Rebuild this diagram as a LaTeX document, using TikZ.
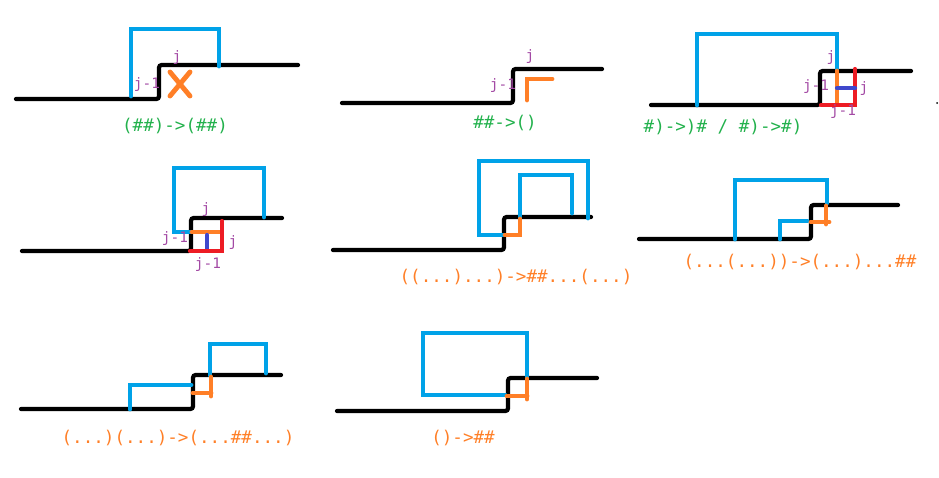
\documentclass[tikz,border=0pt]{standalone}
\usepackage{fontspec}
\setmonofont{DejaVu Sans Mono}
\definecolor{PaintBlue}{RGB}{0,162,232}
\definecolor{PaintOrange}{RGB}{255,127,39}
\definecolor{PaintRed}{RGB}{237,28,36}
\definecolor{PaintIndigo}{RGB}{63,72,204}
\definecolor{PaintPurple}{RGB}{163,73,164}
\definecolor{PaintGreen}{RGB}{34,177,76}

\begin{document}
\begin{tikzpicture}[x=0.02cm, y=-0.02cm,
    stair/.style={draw=black, line width=2.4pt, line cap=round, rounded corners=1.5pt},
    match/.style={draw=PaintBlue, line width=2.8pt, line cap=round},
    move/.style={draw=PaintOrange, line width=2.8pt, line cap=round},
    redseg/.style={draw=PaintRed, line width=2.4pt, line cap=round},
    dpseg/.style={draw=PaintIndigo, line width=2.4pt, line cap=round},
    idx/.style={text=PaintPurple, inner sep=0pt, font=\ttfamily\fontsize{8.2}{9}\selectfont},
    rule/.style={inner sep=0pt, font=\ttfamily\fontsize{10}{12}\selectfont},
    good/.style={rule, text=PaintGreen},
    bad/.style={rule, text=PaintOrange}
  ]
    \useasboundingbox (0,0) rectangle (939,477);
    % (##)->(##)
    \draw[stair] (16,99) -- (159,99) -- (159,65) -- (298,65);
    \draw[match] (131,96) -- (131,29) -- (219,29) -- (219,66);
    \draw[move] (170,72) -- (190,96) (190,72) -- (170,96);
    \node[idx] (p1j) at (177,58) {j};
    \node[idx] (p1jm) at (147,85) {j-1};
    \node[good] (p1rule) at (175,126) {(\#\#)->(\#\#)};
    % ##->()
    \draw[stair] (342,103) -- (513,103) -- (513,69) -- (602,69);
    \draw[move] (527,100) -- (527,79) -- (552,79);
    \node[idx] (p2j) at (530,57) {j};
    \node[idx] (p2jm) at (503,86) {j-1};
    \node[good] (p2rule) at (505,123) {\#\#->()};
    % #)->)# / #)->#)
    \draw[stair] (651,105) -- (820,105) -- (820,71) -- (911,71);
    \draw[match] (697,105) -- (697,34) -- (837,34) -- (837,71);
    \draw[move] (837,71) -- (837,104);
    \draw[redseg] (821,105) -- (855,105) -- (855,69);
    \draw[dpseg] (837,88) -- (855,88);
    \fill (937,103) circle (1);
    \node[idx] (p3j) at (831,58) {j};
    \node[idx] (p3jm) at (816,87) {j-1};
    \node[idx] (p3jr) at (864,89) {j};
    \node[idx] (p3jb) at (843,112) {j-1};
    \node[good] (p3rule) at (723,127) {\#)->)\# / \#)->\#)};
    % second row, left
    \draw[stair] (22,251) -- (191,251) -- (191,218) -- (282,218);
    \draw[match] (190,232) -- (174,232) -- (174,168) -- (264,168) -- (264,217);
    \draw[move] (192,232) -- (220,232);
    \draw[dpseg] (207,235) -- (207,249);
    \draw[redseg] (190,251) -- (222,251) -- (222,221);
    \node[idx] (p4j) at (206,210) {j};
    \node[idx] (p4jm) at (175,239) {j-1};
    \node[idx] (p4jr) at (233,243) {j};
    \node[idx] (p4jb) at (208,265) {j-1};
    % ((...)...)->##...(...)
    \draw[stair] (333,250) -- (504,250) -- (504,217) -- (591,217);
    \draw[match] (503,235) -- (479,235) -- (479,161) -- (588,161) -- (588,218);
    \draw[match] (520,217) -- (520,175) -- (572,175) -- (572,213);
    \draw[move] (520,219) -- (520,235) -- (505,235);
    \node[bad] (p5rule) at (516,277) {((...)...)->\#\#...(...)};
    % (...(...))->(...)...##
    \draw[stair] (639,239) -- (811,239) -- (811,205) -- (898,205);
    \draw[match] (735,239) -- (735,180) -- (827,180) -- (827,203);
    \draw[match] (780,239) -- (780,221) -- (807,221);
    \draw[move] (826,206) -- (826,224);
    \draw[move] (811,222) -- (829,222);
    \node[bad] (p6rule) at (800,262) {(...(...))->(...)...\#\#};
    % (...)(...)->(...##...)
    \draw[stair] (21,409) -- (193,409) -- (193,375) -- (281,375);
    \draw[match] (130,409) -- (130,385) -- (191,385);
    \draw[match] (210,375) -- (210,344) -- (266,344) -- (266,373);
    \draw[move] (211,377) -- (211,396);
    \draw[move] (193,393) -- (211,393);
    \node[bad] (p7rule) at (178,438) {(...)(...)->(...\#\#...)};
    % ()->##
    \draw[stair] (337,411) -- (508,411) -- (508,378) -- (597,378);
    \draw[match] (505,395) -- (423,395) -- (423,333) -- (527,333) -- (527,377);
    \draw[move] (527,379) -- (527,399);
    \draw[move] (507,396) -- (527,396);
    \node[bad] (p8rule) at (463,438) {()->\#\#};
  \end{tikzpicture}
\end{document}
